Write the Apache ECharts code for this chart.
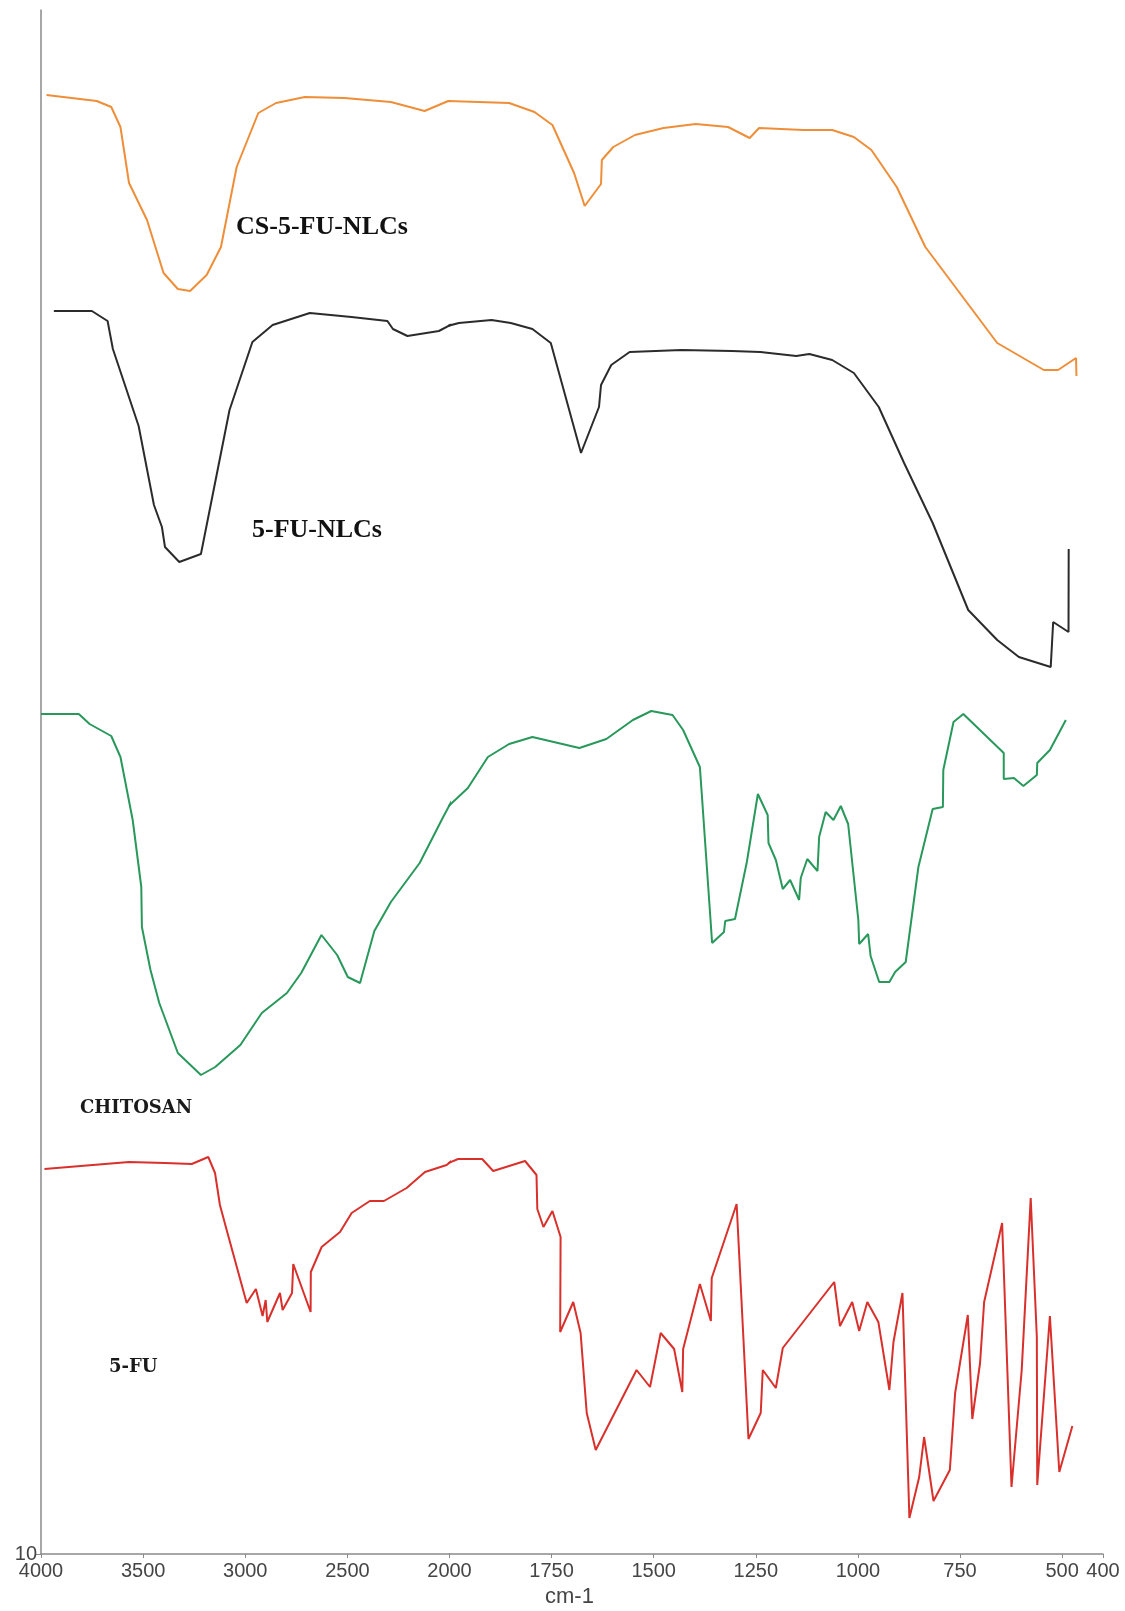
<!DOCTYPE html>
<html>
<head>
<meta charset="utf-8">
<title>FTIR spectra</title>
<script src="https://cdn.jsdelivr.net/npm/echarts@6/dist/echarts.min.js"></script>
<style>
  html, body { margin: 0; padding: 0; background: #ffffff; }
  #chart { width: 1125px; height: 1611px; }
</style>
</head>
<body>
<div id="chart"></div>
<script>
// Wavenumber (cm-1) and transmittance values for each spectrum
const csNlcWn = [3973, 3850, 3727, 3656, 3611, 3569, 3481, 3400, 3330, 3270, 3189, 3119, 3042, 2936, 2849, 2708, 2515, 2287, 2122, 2006,
  1854, 1792, 1748, 1695, 1669, 1629, 1627, 1599, 1546, 1476, 1397, 1318, 1265, 1242, 1134, 1063, 1010, 967, 905, 835, 659, 545, 510, 466, 465];
const csNlcT = [155.9, 155.6, 155.3, 154.7, 152.7, 147.1, 143.4, 138.1, 136.5, 136.3, 137.9, 140.7, 148.7, 154.1, 155.1, 155.7, 155.6, 155.2, 154.3, 155.3,
  155.1, 154.2, 152.9, 148.1, 144.8, 147.0, 149.4, 150.7, 151.9, 152.6, 153.0, 152.7, 151.6, 152.6, 152.4, 152.4, 151.7, 150.4, 146.7, 140.7, 131.1, 128.4, 128.4, 129.6, 127.8];

const nlcWn = [3937, 3751, 3674, 3648, 3522, 3447, 3408, 3393, 3323, 3217, 3077, 2965, 2866, 2684, 2480, 2304, 2277, 2206, 2052,
  1977, 1897, 1850, 1797, 1752, 1678, 1634, 1629, 1604, 1559, 1432, 1309, 1239, 1151, 1119, 1063, 1010, 949, 887, 817, 730, 659, 606, 528, 522, 484.4, 484];
const nlcT = [134.3, 134.3, 133.3, 130.5, 122.8, 114.9, 112.7, 110.7, 109.2, 110.0, 124.4, 131.2, 132.9, 134.1, 133.7, 133.3, 132.5, 131.8, 132.3,
  133.1, 133.4, 133.1, 132.5, 131.1, 120.1, 124.7, 126.9, 128.9, 130.2, 130.4, 130.3, 130.2, 129.8, 130.0, 129.4, 128.1, 124.7, 119.1, 113.1, 104.4, 101.4, 99.7, 98.7, 103.2, 102.2, 110.5];

const chitosanWn = [4000, 3815, 3762, 3656, 3611, 3551, 3509, 3506, 3464, 3421, 3330, 3217, 3147, 3024, 2919, 2796, 2726, 2627, 2550, 2498, 2438, 2368, 2287, 2146, 2031,
  1955, 1906, 1854, 1797, 1682, 1616, 1551, 1506, 1454, 1428, 1387, 1383, 1357, 1328, 1325, 1301, 1272, 1245, 1221, 1219, 1201, 1184, 1166, 1144, 1140, 1124, 1099, 1095, 1079, 1060, 1042, 1024,
  999, 997, 975, 969, 948, 923, 909, 883, 852, 817, 792, 791, 766, 742, 643, 643, 618, 595, 562, 561, 530, 491];
const chitosanT = [94.0, 94.0, 93.0, 91.8, 89.7, 83.4, 76.7, 72.7, 68.4, 65.1, 60.1, 57.9, 58.7, 60.9, 64.1, 66.1, 68.1, 71.9, 69.9, 67.7, 67.1, 72.3, 75.2, 79.1, 83.7,
  86.6, 89.7, 91.0, 91.7, 90.6, 91.5, 93.4, 94.3, 93.9, 92.4, 88.7, 86.4, 71.1, 72.2, 73.3, 73.5, 79.2, 86.0, 83.9, 81.1, 79.4, 76.5, 77.4, 75.4, 77.6, 79.5, 78.3, 81.7, 84.2, 83.4, 84.8, 83.0,
  73.4, 71.0, 72.0, 69.8, 67.2, 67.2, 68.2, 69.2, 78.7, 84.5, 84.7, 88.4, 93.2, 94.0, 90.1, 87.5, 87.6, 86.8, 87.9, 89.1, 90.4, 93.4];

const fuWn = [3983, 3569, 3393, 3262, 3181, 3148, 3124, 3091, 2993, 2948, 2915, 2900, 2892, 2830, 2817, 2771, 2765, 2680, 2679, 2626, 2536, 2479, 2390, 2321, 2210, 2120, 2014,
  1979, 1920, 1893, 1815, 1787, 1785, 1770, 1748, 1728, 1729, 1697, 1679, 1664, 1642, 1542, 1509, 1483, 1450, 1430, 1428, 1387, 1360, 1358, 1297, 1268, 1238, 1233, 1201, 1184,
  1058, 1044, 1014, 997, 977, 950, 923, 913, 891, 874, 850, 838, 815, 775, 762, 731, 720, 701, 691, 647, 624, 599, 577, 562, 561, 530, 507, 475];
const fuT = [48.5, 49.2, 49.1, 49.0, 49.7, 48.1, 44.9, 42.4, 35.1, 36.5, 33.8, 35.4, 33.2, 36.1, 34.4, 36.1, 39.0, 34.2, 38.2, 40.7, 42.2, 44.1, 45.3, 45.3, 46.6, 48.2, 48.9,
  49.5, 49.5, 48.3, 49.3, 47.9, 44.5, 42.7, 44.3, 41.7, 32.2, 35.2, 32.1, 24.1, 20.4, 28.4, 26.7, 32.1, 30.5, 26.2, 30.5, 37.0, 33.3, 37.6, 45.0, 21.5, 24.1, 28.4, 26.6, 30.6,
  37.2, 32.8, 35.2, 32.3, 35.2, 33.2, 26.4, 31.2, 36.1, 13.6, 17.7, 21.7, 15.3, 18.4, 26.1, 33.9, 23.5, 29.1, 35.2, 43.1, 16.7, 28.4, 45.6, 31.7, 16.9, 33.8, 18.2, 22.8];

// Axis ticks: the range above 2000 cm-1 is drawn at half the scale of the range below it
const highTicks = [4000, 3500, 3000, 2500, 2000];
const lowTicks = [1750, 1500, 1250, 1000, 750, 500, 400];
const yTicks = [10];

const spectra = [
  { name: 'CS-5-FU-NLCs', wn: csNlcWn, t: csNlcT, color: '#EF8E38' },
  { name: '5-FU-NLCs', wn: nlcWn, t: nlcT, color: '#2b2b2b' },
  { name: 'CHITOSAN', wn: chitosanWn, t: chitosanT, color: '#28985B' },
  { name: '5-FU', wn: fuWn, t: fuT, color: '#D9302C' }
];

const axisColor = '#8a8a8a';
const labelFont = { fontFamily: 'Liberation Sans', fontSize: 20, color: '#454545', formatter: v => String(v) };

const pairs = (wn, t) => wn.map((w, i) => [w, t[i]]);

// Each spectrum is drawn in both panels; the clip keeps each part inside its own range
const series = [];
spectra.forEach(s => {
  [0, 1].forEach(g => {
    series.push({
      name: s.name,
      type: 'line',
      xAxisIndex: g,
      yAxisIndex: g,
      data: pairs(s.wn, s.t),
      showSymbol: false,
      symbol: 'none',
      clip: true,
      lineStyle: { color: s.color, width: 2 },
      animation: false
    });
  });
});

const chart = echarts.init(document.getElementById('chart'), null, { renderer: 'canvas' });

chart.setOption({
  backgroundColor: '#ffffff',
  animation: false,
  grid: [
    { left: 41, top: 10, width: 408.5, height: 1544 },
    { left: 449.5, top: 10, width: 653.5, height: 1544 }
  ],
  xAxis: [
    {
      gridIndex: 0, type: 'value', min: 2000, max: 4000, interval: 500, inverse: true,
      axisLine: { lineStyle: { color: axisColor, width: 1.5 } },
      axisTick: { length: 4, lineStyle: { color: axisColor } },
      axisLabel: Object.assign({ margin: 7, showMinLabel: true, showMaxLabel: true,
        customValues: highTicks }, labelFont),
      splitLine: { show: false }
    },
    {
      gridIndex: 1, type: 'value', min: 400, max: 2000, inverse: true,
      axisLine: { lineStyle: { color: axisColor, width: 1.5 } },
      axisTick: { length: 4, customValues: lowTicks, lineStyle: { color: axisColor } },
      axisLabel: Object.assign({ margin: 7, hideOverlap: false, customValues: lowTicks }, labelFont),
      splitLine: { show: false }
    }
  ],
  yAxis: [
    {
      gridIndex: 0, type: 'value', min: 10, max: 164.4,
      axisLine: { show: true, lineStyle: { color: axisColor, width: 1.5 } },
      axisTick: { show: true, length: 5, customValues: yTicks, lineStyle: { color: axisColor } },
      axisLabel: Object.assign({ margin: 4, customValues: yTicks }, labelFont),
      splitLine: { show: false }
    },
    {
      gridIndex: 1, type: 'value', min: 10, max: 164.4, show: false,
      splitLine: { show: false }
    }
  ],
  series: series,
  graphic: [
    { type: 'text', left: 236, top: 214, style: { text: 'CS-5-FU-NLCs', fill: '#111', font: 'bold 26px "Liberation Serif"' } },
    { type: 'text', left: 252, top: 517, style: { text: '5-FU-NLCs', fill: '#111', font: 'bold 26px "Liberation Serif"' } },
    { type: 'text', left: 80, top: 1099, style: { text: 'CHITOSAN', fill: '#1a1a1a', font: 'bold 18px "DejaVu Serif"' } },
    { type: 'text', left: 109, top: 1358, style: { text: '5-FU', fill: '#1a1a1a', font: 'bold 18px "DejaVu Serif"' } },
    { type: 'text', left: 545, top: 1586, style: { text: 'cm-1', fill: '#454545', font: '22px "Liberation Sans"' } }
  ]
});
</script>
</body>
</html>
